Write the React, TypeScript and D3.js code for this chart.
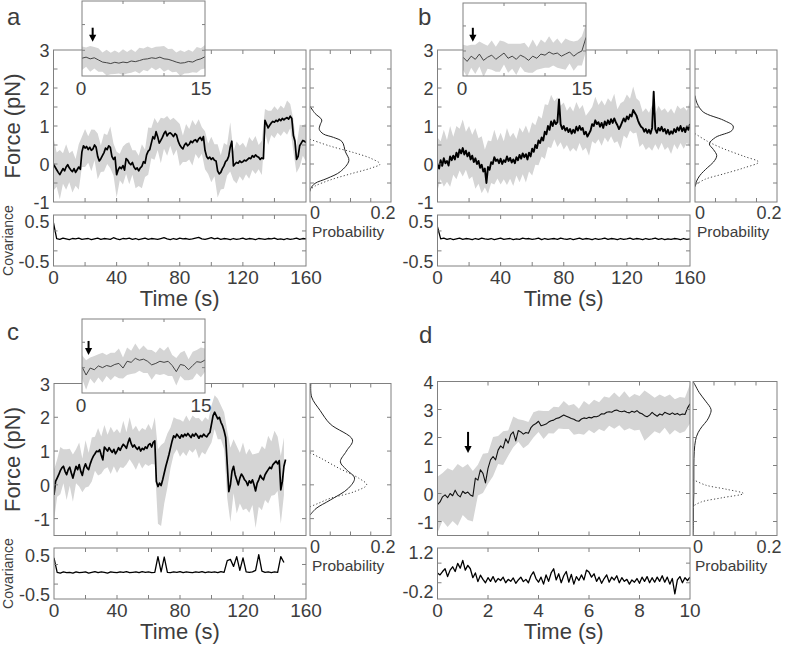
import React from "react";
import * as d3 from "d3";

const W = 787, H = 649;
const FONT = "'Liberation Sans', Arial, Helvetica, sans-serif";
const TXT = "#3d3d3d";
const AXC = "#808080";
const GREY = "#d5d5d5";

// ---------------- Panel a ----------------
const aForce = [
  0.0, -0.08, -0.15, -0.22, -0.28, -0.2, -0.12, -0.18, -0.08, -0.02,
  -0.1, -0.16, -0.2, -0.12, -0.22, -0.15, -0.08, -0.14, 0.32, 0.48,
  0.42, 0.46, 0.38, 0.44, 0.36, 0.4, 0.5, 0.44, 0.2, 0.08,
  0.14, 0.22, 0.3, 0.42, 0.38, 0.48, 0.44, 0.2, 0.12, 0.18,
  -0.28, -0.15, -0.08, -0.12, -0.04, -0.16, 0.14, 0.1, 0.02, -0.02,
  0.04, -0.08, -0.14, -0.1, -0.18, -0.1, -0.06, 0.06, 0.02, 0.24,
  0.34, 0.38, 0.55, 0.72, 0.66, 0.85, 0.72, 0.55, 0.62, 0.7,
  0.8, 0.86, 0.74, 0.8, 0.82, 0.78, 0.72, 0.8, 0.76, 0.6,
  0.5, 0.44, 0.4, 0.5, 0.55, 0.48, 0.52, 0.6, 0.56, 0.62,
  0.64, 0.58, 0.66, 0.7, 0.62, 0.72, 0.36, 0.2, 0.14, 0.18,
  0.12, 0.16, 0.1, 0.08, -0.18, -0.26, -0.22, -0.12, -0.05, 0.06,
  0.1, 0.2, 0.45, 0.6, -0.05, 0.0, 0.04, 0.02, 0.08, 0.04,
  0.06, 0.1, 0.08, 0.12, 0.16, 0.14, 0.22, 0.18, 0.24, 0.2,
  0.18, 0.12, 0.16, 0.14, 1.15, 1.05, 0.95, 1.02, 1.08, 1.12,
  1.1, 1.15, 1.12, 1.18, 1.14, 1.2, 1.16, 1.2, 1.22, 1.18,
  1.26, 1.2, 0.75, 0.6, 0.12, 0.2, 0.48, 0.55, 0.62, 0.6,
  0.56,
];
const aSpread = [
  0.7, 0.45, 0.65, 0.4, 0.6, 0.38, 0.55, 0.35, 0.6, 0.4,
  0.5, 0.35, 0.55, 0.4, 0.6, 0.35, 0.5, 0.38, 0.55, 0.42,
  0.6, 0.35, 0.5, 0.4, 0.55, 0.32, 0.5, 0.4, 0.58, 0.36,
  0.62, 0.4, 0.55, 0.35, 0.6, 0.4, 0.52, 0.34, 0.5, 0.38,
  0.55, 0.35, 0.5, 0.4, 0.6, 0.38, 0.52, 0.35, 0.5, 0.4,
  0.6, 0.42, 0.7, 0.45, 0.6, 0.4, 0.65, 0.38, 0.55, 0.4,
  0.5, 0.35, 0.55, 0.38, 0.5, 0.32, 0.45, 0.3, 0.45, 0.32,
  0.42, 0.3, 0.4, 0.3, 0.45, 0.32, 0.42, 0.35, 0.55, 0.4,
  0.5,
];
const aCov = [
  0.45, 0.06, 0.04, 0.07, 0.05, 0.03, 0.06, 0.05, 0.07, 0.04,
  0.05, 0.06, 0.03, 0.05, 0.07, 0.04, 0.06, 0.05, 0.04, 0.08,
  0.05, 0.03, 0.06, 0.05, 0.07, 0.04, 0.06, 0.03, 0.05, 0.07,
  0.04, 0.06, 0.05, 0.04, 0.06, 0.08, 0.05, 0.03, 0.06, 0.04,
  0.07, 0.05, 0.06, 0.04, 0.05, 0.07, 0.09, 0.05, 0.04, 0.06,
  0.08, 0.05, 0.07, 0.04, 0.06, 0.05, 0.03, 0.06, 0.04, 0.05,
  0.07, 0.04, 0.06, 0.05, 0.03, 0.06, 0.05, 0.04, 0.06, 0.05,
  0.07, 0.04, 0.05, 0.03, 0.06, 0.04, 0.05, 0.07, 0.04, 0.06,
  0.05,
];
const aHistSolidF = [1.52, 1.33, 1.16, 1.03, 0.91, 0.79, 0.7, 0.59, 0.32, 0.09, -0.2, -0.38, -0.51, -0.64, -0.72];
const aHistSolidP = [0, 0.0125, 0.029, 0.025, 0.023, 0.033, 0.058, 0.079, 0.0875, 0.096, 0.075, 0.042, 0.0125, 0.002, 0];
const aHistDotF = [0.65, 0.47, 0.3, 0.15, 0.0, -0.11, -0.26, -0.42, -0.58, -0.68];
const aHistDotP = [0, 0.05, 0.108, 0.15, 0.173, 0.15, 0.1, 0.05, 0.0125, 0];
const aInset = [
  -0.17, -0.12, -0.2, -0.15, -0.25, -0.35, -0.38, -0.42, -0.36, -0.4,
  -0.35, -0.38, -0.3, -0.33, -0.28, -0.22, -0.2, -0.15, -0.18, -0.12,
  -0.2, -0.22, -0.28, -0.35, -0.4, -0.38, -0.32, -0.35, -0.25, -0.2,
  -0.1,
];
const aInsetSpread = [
  0.55, 0.45, 0.6, 0.5, 0.55, 0.45, 0.6, 0.5, 0.55, 0.48,
  0.6, 0.5, 0.55, 0.45, 0.6, 0.5, 0.58, 0.45, 0.55, 0.5,
  0.6, 0.48, 0.55, 0.45, 0.6, 0.5, 0.55, 0.48, 0.6, 0.5,
  0.55,
];

// ---------------- Panel b ----------------
const bForce = [
  0.0, -0.12, 0.1, -0.05, 0.15, 0.02, 0.08, -0.04, 0.2, 0.1,
  0.22, 0.12, 0.3, 0.18, 0.38, 0.28, 0.42, 0.25, 0.35, 0.2,
  0.3, 0.12, 0.22, 0.05, 0.15, 0.0, 0.08, -0.1, -0.02, -0.2,
  -0.12, -0.5, -0.08, -0.15, 0.05, 0.0, 0.18, 0.08, 0.12, 0.02,
  0.14, 0.0, 0.1, 0.05, 0.2, 0.08, 0.16, 0.04, 0.12, 0.02,
  0.18, 0.1, 0.24, 0.14, 0.28, 0.18, 0.26, 0.12, 0.3, 0.2,
  0.4, 0.32, 0.5, 0.42, 0.62, 0.55, 0.7, 0.62, 0.85, 0.78,
  1.0, 0.9, 1.12, 1.0, 1.15, 1.05, 1.1, 1.7, 1.05, 0.92,
  1.0, 0.88, 0.95, 0.84, 0.92, 0.8, 0.9, 0.82, 0.98, 0.88,
  1.0, 0.9, 0.95, 0.78, 0.85, 0.72, 0.8, 0.88, 1.05, 1.0,
  1.15, 1.05, 1.1, 0.98, 1.08, 0.95, 1.12, 1.02, 1.15, 1.05,
  1.18, 1.08, 1.2, 1.1, 1.02, 0.92, 1.0, 1.1, 1.2, 1.12,
  1.25, 1.18, 1.3, 1.25, 1.42, 1.35, 1.28, 1.15, 1.05, 0.98,
  0.95, 0.85, 0.92, 0.82, 0.9, 0.8, 0.95, 1.9, 0.92, 0.82,
  0.95, 0.88, 0.98, 0.86, 0.92, 0.8, 0.9, 0.78, 0.86, 0.8,
  0.92, 0.84, 0.96, 0.88, 1.0, 0.86, 0.95, 0.84, 0.98, 0.9,
  1.05,
];
const bSpread = [
  0.7, 0.5, 0.75, 0.55, 0.8, 0.5, 0.7, 0.55, 0.75, 0.5,
  0.7, 0.55, 0.8, 0.6, 0.75, 0.5, 0.7, 0.55, 0.72, 0.5,
  0.68, 0.5, 0.75, 0.55, 0.7, 0.48, 0.72, 0.55, 0.75, 0.5,
  0.7, 0.52, 0.65, 0.5, 0.72, 0.55, 0.7, 0.5, 0.65, 0.48,
  0.62, 0.45, 0.6, 0.48, 0.65, 0.45, 0.6, 0.42, 0.58, 0.45,
  0.62, 0.45, 0.6, 0.42, 0.58, 0.45, 0.65, 0.42, 0.6, 0.45,
  0.58, 0.42, 0.62, 0.45, 0.6, 0.42, 0.55, 0.45, 0.6, 0.4,
  0.58, 0.42, 0.55, 0.45, 0.6, 0.4, 0.58, 0.45, 0.55, 0.42,
  0.6,
];
const bCov = [
  0.35, 0.05, 0.07, 0.04, 0.06, 0.03, 0.05, 0.07, 0.04, 0.06,
  0.05, 0.03, 0.06, 0.04, 0.07, 0.05, 0.04, 0.06, 0.03, 0.05,
  0.07, 0.04, 0.05, 0.06, 0.03, 0.05, 0.04, 0.07, 0.05, 0.06,
  0.04, 0.05, 0.07, 0.03, 0.06, 0.04, 0.05, 0.06, 0.04, 0.07,
  0.05, 0.04, 0.06, 0.03, 0.05, 0.07, 0.04, 0.06, 0.05, 0.03,
  0.06, 0.04, 0.05, 0.07, 0.04, 0.06, 0.05, 0.03, 0.06, 0.04,
  0.05, 0.07, 0.04, 0.06, 0.05, 0.03, 0.06, 0.04, 0.05, 0.07,
  0.04, 0.06, 0.03, 0.05, 0.04, 0.06, 0.05, 0.03, 0.06, 0.04,
  0.05,
];
const bHistSolidF = [1.8, 1.6, 1.37, 1.15, 1.0, 0.88, 0.7, 0.53, 0.38, 0.22, 0.05, -0.1, -0.3, -0.45, -0.6];
const bHistSolidP = [0, 0.005, 0.02, 0.07, 0.093, 0.09, 0.05, 0.035, 0.045, 0.053, 0.045, 0.03, 0.012, 0.004, 0];
const bHistDotF = [0.8, 0.6, 0.4, 0.2, 0.05, -0.1, -0.26, -0.4, -0.55];
const bHistDotP = [0, 0.03, 0.07, 0.12, 0.155, 0.12, 0.07, 0.025, 0];
const bInset = [
  -0.1, -0.3, -0.05, -0.2, 0.05, -0.25, -0.1, 0.0, -0.2, -0.05,
  0.1, -0.15, -0.05, -0.2, 0.0, -0.1, -0.25, -0.05, -0.15, 0.05,
  0.0, 0.15, 0.05, 0.1, -0.05, 0.05, 0.15, -0.05, 0.1, 0.2,
  0.85,
];
const bInsetSpread = [
  0.6, 0.75, 0.55, 0.7, 0.6, 0.8, 0.55, 0.7, 0.6, 0.75,
  0.55, 0.7, 0.6, 0.75, 0.55, 0.7, 0.6, 0.8, 0.55, 0.7,
  0.6, 0.75, 0.55, 0.7, 0.6, 0.75, 0.55, 0.7, 0.6, 0.7,
  0.65,
];

// ---------------- Panel c ----------------
const cForce = [
  -0.3, 0.1, 0.2, 0.3, 0.42, 0.5, 0.55, 0.4, 0.3, 0.45,
  0.52, 0.35, 0.2, 0.38, 0.55, 0.45, 0.6, 0.4, 0.28, 0.5,
  0.62, 0.5, 0.45, 0.62, 0.75, 0.85, 0.92, 1.0, 0.98, 1.04,
  0.88, 0.74, 1.12, 1.06, 1.0, 1.1, 1.02, 0.96, 1.05, 0.92,
  1.0, 1.1, 1.02, 1.12, 1.2, 1.15, 1.08, 1.25, 1.38, 1.22,
  1.12, 1.18, 1.1, 1.05, 1.12, 1.0, 1.08, 1.04, 1.12, 1.08,
  1.18, 1.22, 1.12, 1.26, 1.3, 0.1, -0.05, 0.05, -0.02, 0.15,
  0.35, 0.55, 0.72, 0.9, 1.1, 1.3, 1.45, 1.4, 1.5, 1.44,
  1.38, 1.48, 1.42, 1.5, 1.45, 1.52, 1.46, 1.4, 1.5, 1.44,
  1.52, 1.46, 1.38, 1.46, 1.42, 1.5, 1.45, 1.42, 1.5, 1.55,
  1.8, 2.05, 2.15, 2.05, 1.95, 2.0, 1.85, 1.75, 1.6, 1.4,
  0.6, -0.2, 0.0, 0.4, 0.55, 0.3, 0.15, 0.0, 0.2, 0.32,
  0.25, 0.15, 0.1, -0.02, 0.12, 0.05, 0.15, 0.0, -0.18, 0.05,
  0.15, 0.28, 0.2, 0.15, 0.3, 0.38, 0.45, 0.52, 0.48, 0.6,
  0.65, 0.7, 0.62, 0.72, -0.15, 0.1, 0.55, 0.75,
];
const cSpread = [
  0.75, 0.55, 0.7, 0.5, 0.75, 0.55, 0.7, 0.5, 0.65, 0.5,
  0.7, 0.5, 0.65, 0.5, 0.7, 0.55, 0.65, 0.48, 0.7, 0.5,
  0.65, 0.5, 0.7, 0.48, 0.62, 0.5, 0.65, 0.45, 0.6, 0.5,
  0.62, 0.5, 0.7, 1.1, 1.2, 0.9, 0.8, 0.6, 0.55, 0.45,
  0.55, 0.45, 0.6, 0.42, 0.55, 0.45, 0.6, 0.45, 0.55, 0.42,
  0.55, 0.5, 0.6, 0.5, 0.55, 1.0, 1.1, 0.8, 1.0, 0.75,
  1.0, 0.8, 0.95, 0.75, 1.1, 0.8, 0.95, 0.75, 1.0, 0.8,
  0.95, 0.8, 1.0, 0.85,
];
const cCov = [
  0.42, 0.05, 0.03, 0.06, 0.04, 0.05, 0.03, 0.06, 0.04, 0.05,
  0.06, 0.03, 0.05, 0.07, 0.04, 0.06, 0.05, 0.03, 0.06, 0.05,
  0.04, 0.06, 0.05, 0.07, 0.04, 0.05, 0.06, 0.04, 0.07, 0.05,
  0.06, 0.04, 0.05, 0.45, 0.06, 0.44, 0.05, 0.04, 0.06, 0.05,
  0.07, 0.04, 0.06, 0.05, 0.04, 0.06, 0.05, 0.07, 0.04, 0.06,
  0.05, 0.06, 0.04, 0.07, 0.05, 0.35, 0.38, 0.2, 0.45, 0.1,
  0.42, 0.06, 0.05, 0.06, 0.1, 0.5, 0.08, 0.05, 0.06, 0.04,
  0.06, 0.05, 0.45, 0.3,
];
const cHistSolidF = [3.0, 2.6, 2.2, 1.8, 1.33, 1.0, 0.68, 0.45, 0.2, -0.1, -0.45, -0.7, -0.9];
const cHistSolidP = [0.002, 0.004, 0.025, 0.05, 0.105, 0.09, 0.075, 0.09, 0.11, 0.095, 0.05, 0.015, 0.0];
const cHistDotF = [0.95, 0.8, 0.5, 0.2, 0.0, -0.2, -0.4, -0.55, -0.65];
const cHistDotP = [0, 0.025, 0.07, 0.12, 0.14, 0.11, 0.05, 0.02, 0];
const cInset = [
  0.24, -0.15, 0.18, 0.1, 0.28, 0.2, 0.3, 0.25, 0.35, 0.4,
  0.18, 0.5, 0.45, 0.64, 0.55, 0.6, 0.5, 0.33, 0.4, 0.5,
  0.45, 0.5, 0.3, 0.01, 0.35, 0.3, 0.1, 0.3, 0.48, 0.45,
  0.56,
];
const cInsetSpread = [
  0.55, 0.7, 0.5, 0.65, 0.55, 0.7, 0.5, 0.65, 0.55, 0.7,
  0.5, 0.65, 0.55, 0.7, 0.5, 0.65, 0.55, 0.7, 0.5, 0.65,
  0.55, 0.7, 0.5, 0.65, 0.55, 0.7, 0.5, 0.65, 0.55, 0.7,
  0.55,
];

// ---------------- Panel d ----------------
const dForce = [
  -0.4, -0.3, -0.12, -0.05, -0.15, 0.0, -0.08, 0.12, -0.05, -0.12,
  0.08, 0.0, 0.05, -0.05, -0.1, 0.55, 0.48, 0.85, 0.72, 0.38,
  0.9, 1.2, 1.32, 1.2, 1.55, 1.7, 1.62, 1.95, 1.8, 2.1,
  2.2, 1.88, 2.25, 2.2, 2.12, 2.18, 2.15, 2.35, 2.45, 2.5,
  2.58, 2.42, 2.45, 2.48, 2.55, 2.6, 2.62, 2.68, 2.7, 2.75,
  2.8, 2.76, 2.72, 2.68, 2.65, 2.6, 2.58, 2.66, 2.7, 2.68,
  2.72, 2.7, 2.75, 2.74, 2.78, 2.85, 2.84, 2.9, 2.92, 2.9,
  2.96, 2.98, 2.94, 2.92, 2.95, 2.9, 2.88, 2.94, 2.9, 2.96,
  2.88, 2.85, 2.78, 2.74, 2.8, 2.9, 2.82, 2.76, 2.84, 2.8,
  2.9, 2.86, 2.82, 2.88, 2.82, 2.86, 2.8, 2.84, 2.82, 3.05,
  3.2,
];
const dSpread = [
  1.0, 0.85, 1.05, 0.9, 1.1, 0.85, 1.0, 0.9, 0.55, 0.7,
  0.55, 0.7, 0.5, 0.6, 0.45, 0.55, 0.4, 0.5, 0.4, 0.45,
  0.38, 0.5, 0.4, 0.48, 0.38, 0.5, 0.42, 0.55, 0.45, 0.6,
  0.45, 0.6, 0.48, 0.62, 0.5, 0.65, 0.5, 0.7, 0.55, 0.65,
  0.6, 0.9, 0.75, 0.6, 0.7, 0.55, 0.72, 0.55, 0.65, 0.6,
  0.7,
];
const dCov = [
  0.45, 0.38, 0.5, 0.6, 0.32, 0.55, 0.67, 0.5, 0.79, 0.62,
  0.9, 0.55, 0.72, 0.6, 0.28, 0.45, 0.14, 0.37, 0.22, 0.1,
  0.28, 0.15, 0.32, 0.12, 0.25, 0.18, 0.3, 0.1, 0.22, 0.15,
  0.27, 0.08, 0.2, 0.3, 0.14, 0.22, 0.1, 0.35, 0.49, 0.25,
  0.12, 0.3, 0.05, 0.38, 0.15, 0.45, 0.6, 0.2, 0.42, 0.1,
  0.35, 0.5, 0.12, 0.4, 0.05, 0.32, 0.18, 0.38, 0.2, 0.55,
  0.48, 0.3, 0.42, 0.15, 0.3, 0.08, 0.25, 0.38, 0.12, 0.3,
  0.2, 0.35, 0.1, 0.28, 0.15, 0.22, 0.05, 0.2, 0.12, 0.25,
  0.08, 0.3, 0.15, 0.32, 0.1, 0.28, 0.12, 0.3, 0.15, 0.35,
  0.12, 0.3, 0.05, 0.25, -0.3, 0.2, 0.32, 0.1, 0.28, 0.18,
  0.3,
];
const dHistSolidF = [4.0, 3.9, 3.6, 3.3, 3.0, 2.8, 2.6, 2.4, 2.17, 1.9, 1.5, 1.0, 0.5, 0.0, -0.5, -1.0, -1.5];
const dHistSolidP = [0.0, 0.004, 0.015, 0.03, 0.043, 0.04, 0.033, 0.022, 0.012, 0.006, 0.003, 0.002, 0.002, 0.002, 0.001, 0.001, 0.0];
const dHistDotF = [0.5, 0.3, 0.15, 0.0, -0.15, -0.3, -0.45];
const dHistDotP = [0, 0.03, 0.08, 0.12, 0.07, 0.02, 0.0];

// ---------------- shared tick labels ----------------
const longTimeLabels = [0, 40, 80, 120, 160];
const longTimeTicks = [20, 40, 60, 80, 100, 120, 140];
const shortTimeLabels = [0, 2, 4, 6, 8, 10];
const shortTimeTicks = [2, 4, 6, 8];
const forceLabelsAB = [3, 2, 1, 0, -1];
const forceLabelsC = [3, 2, 1, 0, -1];
const forceLabelsD = [4, 3, 2, 1, 0, -1];
const forceTicksAB = [-0.5, 0, 0.5, 1, 1.5, 2, 2.5];
const forceTicksC = [-1, 0, 1, 2];
const forceTicksD = [-1, 0, 1, 2, 3];
const probTicks = [0.05, 0.1, 0.15];

type Box = { x0: number; x1: number; y0: number; y1: number };

type Spec = {
  id: string;
  letter: string;
  letterPos: [number, number];
  main: Box;
  hist: Box;
  cov: Box;
  tMax: number;
  tTicks: number[];
  tLabels: number[];
  fDomain: [number, number];
  fTicks: number[];
  fLabels: number[];
  force: number[];
  step: number;
  spread: number[];
  spreadStep: number;
  traceWidth: number;
  traceColor: string;
  hs: [number[], number[]];
  hd: [number[], number[]];
  covVals: number[];
  covStep: number;
  covDomain: [number, number];
  covTicks: number[];
  covLabels: { v: number; s: string }[];
  showForceTitle: boolean;
  showCovTitle: boolean;
  inset?: { box: Box; vals: number[]; spread: number[]; arrow: [number, number] };
  arrow?: [number, number, number];
};

const specs: Spec[] = [
  {
    id: "a", letter: "a", letterPos: [7, 25],
    main: { x0: 53.5, x1: 306, y0: 50, y1: 202 },
    hist: { x0: 310, x1: 391, y0: 50, y1: 202 },
    cov: { x0: 53.5, x1: 306, y0: 215, y1: 266 },
    tMax: 160, tTicks: longTimeTicks, tLabels: longTimeLabels,
    fDomain: [-1, 3], fTicks: forceTicksAB, fLabels: forceLabelsAB,
    force: aForce, step: 1, spread: aSpread, spreadStep: 2, traceWidth: 1.7, traceColor: "#000",
    hs: [aHistSolidF, aHistSolidP], hd: [aHistDotF, aHistDotP],
    covVals: aCov, covStep: 2, covDomain: [-0.63, 0.65], covTicks: [-0.25, 0.25],
    covLabels: [{ v: 0.5, s: "0.5" }, { v: -0.5, s: "-0.5" }],
    showForceTitle: true, showCovTitle: true,
    inset: { box: { x0: 82, x1: 205, y0: 1, y1: 76 }, vals: aInset, spread: aInsetSpread, arrow: [1.3, 0.6] },
  },
  {
    id: "b", letter: "b", letterPos: [418, 25],
    main: { x0: 437.5, x1: 690, y0: 50, y1: 202 },
    hist: { x0: 695, x1: 777, y0: 50, y1: 202 },
    cov: { x0: 437.5, x1: 690, y0: 215, y1: 266 },
    tMax: 160, tTicks: longTimeTicks, tLabels: longTimeLabels,
    fDomain: [-1, 3], fTicks: forceTicksAB, fLabels: forceLabelsAB,
    force: bForce, step: 1, spread: bSpread, spreadStep: 2, traceWidth: 1.9, traceColor: "#000",
    hs: [bHistSolidF, bHistSolidP], hd: [bHistDotF, bHistDotP],
    covVals: bCov, covStep: 2, covDomain: [-0.63, 0.65], covTicks: [-0.25, 0.25],
    covLabels: [{ v: 0.5, s: "0.5" }, { v: -0.5, s: "-0.5" }],
    showForceTitle: false, showCovTitle: false,
    inset: { box: { x0: 463, x1: 586, y0: 3, y1: 76 }, vals: bInset, spread: bInsetSpread, arrow: [1.2, 0.64] },
  },
  {
    id: "c", letter: "c", letterPos: [7, 340],
    main: { x0: 54, x1: 306, y0: 383.5, y1: 535.5 },
    hist: { x0: 310, x1: 391, y0: 383.5, y1: 535.5 },
    cov: { x0: 54, x1: 306, y0: 548, y1: 599 },
    tMax: 160, tTicks: longTimeTicks, tLabels: longTimeLabels,
    fDomain: [-1.5, 3], fTicks: forceTicksC, fLabels: forceLabelsC,
    force: cForce, step: 1, spread: cSpread, spreadStep: 2, traceWidth: 1.7, traceColor: "#000",
    hs: [cHistSolidF, cHistSolidP], hd: [cHistDotF, cHistDotP],
    covVals: cCov, covStep: 2, covDomain: [-0.63, 0.67], covTicks: [-0.25, 0.25],
    covLabels: [{ v: 0.5, s: "0.5" }, { v: -0.5, s: "-0.5" }],
    showForceTitle: true, showCovTitle: true,
    inset: { box: { x0: 82, x1: 205, y0: 319, y1: 393 }, vals: cInset, spread: cInsetSpread, arrow: [0.8, 0.8] },
  },
  {
    id: "d", letter: "d", letterPos: [419, 343],
    main: { x0: 437.5, x1: 690, y0: 381.5, y1: 535.5 },
    hist: { x0: 693, x1: 777, y0: 381.5, y1: 535.5 },
    cov: { x0: 437.5, x1: 690, y0: 548, y1: 599 },
    tMax: 10, tTicks: shortTimeTicks, tLabels: shortTimeLabels,
    fDomain: [-1.5, 4], fTicks: forceTicksD, fLabels: forceLabelsD,
    force: dForce, step: 0.1, spread: dSpread, spreadStep: 0.2, traceWidth: 1.1, traceColor: "#111",
    hs: [dHistSolidF, dHistSolidP], hd: [dHistDotF, dHistDotP],
    covVals: dCov, covStep: 0.1, covDomain: [-0.48, 1.34], covTicks: [0.1, 0.8],
    covLabels: [{ v: 1.2, s: "1.2" }, { v: -0.2, s: "-0.2" }],
    showForceTitle: false, showCovTitle: false,
    arrow: [1.21, 1.45, 21],
  },
];

function Frame({ b, xt, yt, len = 4, fill = "none" }: { b: Box; xt: number[]; yt: number[]; len?: number; fill?: string }) {
  return (
    <g stroke={AXC} strokeWidth={1} fill="none">
      <rect x={b.x0} y={b.y0} width={b.x1 - b.x0} height={b.y1 - b.y0} fill={fill} />
      {xt.map((x, i) => (
        <g key={"x" + i}>
          <line x1={x} x2={x} y1={b.y1} y2={b.y1 - len} />
          <line x1={x} x2={x} y1={b.y0} y2={b.y0 + len} />
        </g>
      ))}
      {yt.map((y, i) => (
        <g key={"y" + i}>
          <line x1={b.x0} x2={b.x0 + len} y1={y} y2={y} />
          <line x1={b.x1} x2={b.x1 - len} y1={y} y2={y} />
        </g>
      ))}
    </g>
  );
}

function Arrow({ x, tipY, len }: { x: number; tipY: number; len: number }) {
  return (
    <g>
      <line x1={x} x2={x} y1={tipY - len} y2={tipY - 6} stroke="#000" strokeWidth={2} />
      <path d={`M${x - 3.6},${tipY - 7} L${x + 3.6},${tipY - 7} L${x},${tipY} Z`} fill="#000" />
    </g>
  );
}

function Panel({ s }: { s: Spec }) {
  const { main, hist, cov } = s;
  const x = d3.scaleLinear().domain([0, s.tMax]).range([main.x0, main.x1]);
  const y = d3.scaleLinear().domain(s.fDomain).range([main.y1, main.y0]);
  const hx = d3.scaleLinear().domain([0, 0.2]).range([hist.x0, hist.x1]);
  const cy = d3.scaleLinear().domain(s.covDomain).range([cov.y1, cov.y0]);

  const ratio = Math.round(s.spreadStep / s.step);
  const band = d3
    .area<number>()
    .x((_, i) => x(i * s.spreadStep))
    .y0((d, i) => y(s.force[i * ratio] - d))
    .y1((d, i) => y(s.force[i * ratio] + d));
  const trace = d3.line<number>().x((_, i) => x(i * s.step)).y((d) => y(d));
  const covLine = d3.line<number>().x((_, i) => x(i * s.covStep)).y((d) => cy(d));
  const hLine = (F: number[], P: number[]) =>
    d3
      .line<number>()
      .x((_, i) => hx(P[i]))
      .y((d) => y(d))
      .curve(d3.curveCatmullRom.alpha(0.5))(F) || "";

  const mainMidY = (main.y0 + main.y1) / 2;
  const covMidY = (cov.y0 + cov.y1) / 2;

  let insetEl: React.ReactNode = null;
  if (s.inset) {
    const ib = s.inset.box;
    const ix = d3.scaleLinear().domain([0, 15]).range([ib.x0, ib.x1]);
    const iy = d3.scaleLinear().domain([-1, 2.5]).range([ib.y1, ib.y0]);
    const iv = s.inset.vals;
    const iBand = d3
      .area<number>()
      .x((_, i) => ix(i * 0.5))
      .y0((d, i) => iy(iv[i] - d))
      .y1((d, i) => iy(iv[i] + d));
    const iLine = d3.line<number>().x((_, i) => ix(i * 0.5)).y((d) => iy(d));
    insetEl = (
      <g>
        <rect x={ib.x0} y={ib.y0} width={ib.x1 - ib.x0} height={ib.y1 - ib.y0} fill="#fff" />
        <clipPath id={"ic" + s.id}>
          <rect x={ib.x0} y={ib.y0} width={ib.x1 - ib.x0} height={ib.y1 - ib.y0} />
        </clipPath>
        <g clipPath={`url(#ic${s.id})`}>
          <path d={iBand(s.inset.spread) || ""} fill={GREY} />
          <path d={iLine(iv) || ""} fill="none" stroke="#333" strokeWidth={0.9} />
        </g>
        <Frame b={ib} xt={[ix(5), ix(10)]} yt={[iy(0.2), iy(1.4)]} len={3} />
        <Arrow x={ix(s.inset.arrow[0])} tipY={iy(s.inset.arrow[1])} len={14} />
        <text x={ix(0) - 1} y={ib.y1 + 19} textAnchor="middle" fontSize={19}>0</text>
        <text x={ix(15) - 4} y={ib.y1 + 19} textAnchor="middle" fontSize={19}>15</text>
      </g>
    );
  }

  return (
    <g fontFamily={FONT} fill={TXT}>
      <text x={s.letterPos[0]} y={s.letterPos[1]} fontSize={24}>{s.letter}</text>

      {/* main plot */}
      <clipPath id={"mc" + s.id}>
        <rect x={main.x0} y={main.y0} width={main.x1 - main.x0} height={main.y1 - main.y0} />
      </clipPath>
      <g clipPath={`url(#mc${s.id})`}>
        <path d={band(s.spread) || ""} fill={GREY} />
        <path d={trace(s.force) || ""} fill="none" stroke={s.traceColor} strokeWidth={s.traceWidth} strokeLinejoin="round" />
      </g>
      <Frame b={main} xt={s.tTicks.map((t) => x(t))} yt={s.fTicks.map((f) => y(f))} />
      {s.fLabels.map((v) => (
        <text key={"fl" + v} x={main.x0 - 4} y={y(v) + 1} textAnchor="end" dominantBaseline="central" fontSize={18}>
          {v}
        </text>
      ))}
      {s.showForceTitle && (
        <text transform={`translate(20,${mainMidY}) rotate(-90)`} textAnchor="middle" fontSize={22}>
          Force (pN)
        </text>
      )}
      {s.arrow && <Arrow x={x(s.arrow[0])} tipY={y(s.arrow[1])} len={s.arrow[2]} />}

      {/* histogram */}
      <clipPath id={"hc" + s.id}>
        <rect x={hist.x0} y={hist.y0} width={hist.x1 - hist.x0} height={hist.y1 - hist.y0} />
      </clipPath>
      <g clipPath={`url(#hc${s.id})`} fill="none">
        <path d={hLine(s.hs[0], s.hs[1])} stroke="#222" strokeWidth={1} />
        <path d={hLine(s.hd[0], s.hd[1])} stroke="#444" strokeWidth={1} strokeDasharray="1.2,2.2" />
      </g>
      <Frame b={hist} xt={probTicks.map((p) => hx(p))} yt={s.fTicks.map((f) => y(f))} />
      <text x={hx(0) + 5} y={hist.y1 + 17} textAnchor="middle" fontSize={18}>0</text>
      <text x={hx(0.2) - 8} y={hist.y1 + 17} textAnchor="middle" fontSize={18}>0.2</text>
      <text x={hist.x0 + 2} y={hist.y1 + 35} fontSize={15.5}>Probability</text>

      {/* covariance */}
      <clipPath id={"cc" + s.id}>
        <rect x={cov.x0} y={cov.y0} width={cov.x1 - cov.x0} height={cov.y1 - cov.y0} />
      </clipPath>
      <g clipPath={`url(#cc${s.id})`}>
        <path d={covLine(s.covVals) || ""} fill="none" stroke="#000" strokeWidth={1.3} strokeLinejoin="round" />
      </g>
      <Frame b={cov} xt={s.tTicks.map((t) => x(t))} yt={s.covTicks.map((v) => cy(v))} />
      {s.covLabels.map((c) => (
        <text key={"cl" + c.s} x={cov.x0 - 4} y={cy(c.v) + 1} textAnchor="end" dominantBaseline="central" fontSize={18}>
          {c.s}
        </text>
      ))}
      {s.showCovTitle && (
        <text transform={`translate(13,${covMidY}) rotate(-90)`} textAnchor="middle" fontSize={14}>
          Covariance
        </text>
      )}
      {s.tLabels.map((t) => (
        <text key={"tl" + t} x={x(t)} y={cov.y1 + 18} textAnchor="middle" fontSize={19}>
          {t}
        </text>
      ))}
      <text x={(main.x0 + main.x1) / 2} y={cov.y1 + 40} textAnchor="middle" fontSize={22}>
        Time (s)
      </text>

      {insetEl}
    </g>
  );
}

export default function App() {
  return (
    <div style={{ position: "absolute", left: 0, top: 0, width: W, height: H, background: "#fff" }}>
      <svg width={W} height={H} viewBox={`0 0 ${W} ${H}`} style={{ display: "block" }}>
        <rect x={0} y={0} width={W} height={H} fill="#fff" />
        {specs.map((s) => (
          <Panel key={s.id} s={s} />
        ))}
      </svg>
    </div>
  );
}
